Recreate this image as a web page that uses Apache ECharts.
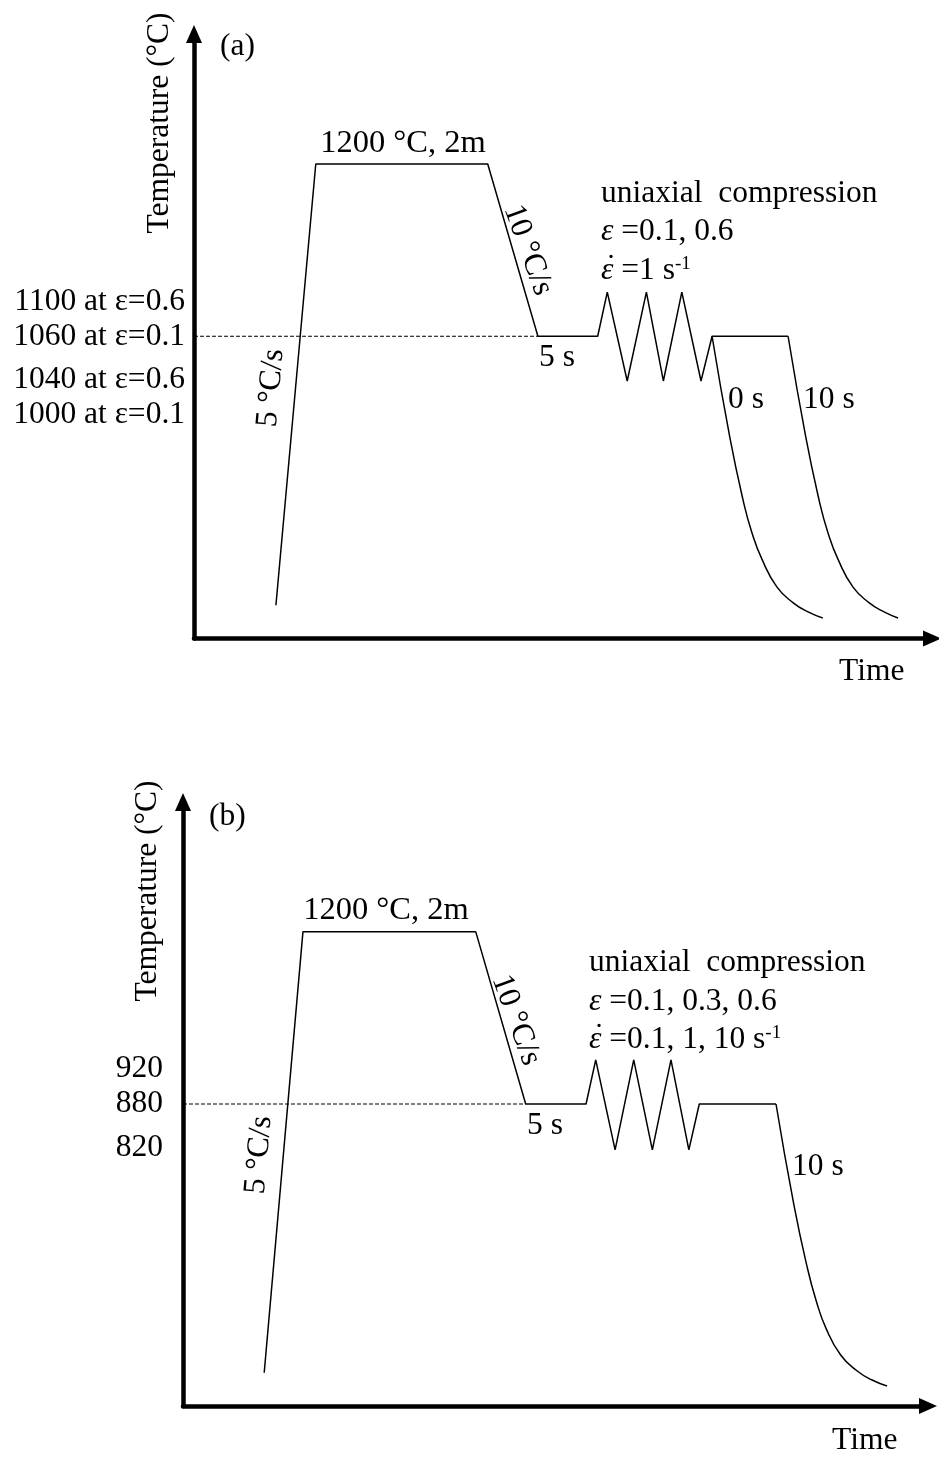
<!DOCTYPE html>
<html><head><meta charset="utf-8">
<script src="https://cdn.jsdelivr.net/npm/echarts@6/dist/echarts.min.js"></script>
<style>html,body{margin:0;padding:0;background:#fff}#c{width:939px;height:1457px}</style>
</head><body><div id="c"></div>
<script>
// Schematic units: time 0–100 (axis length), temperature 0–100 (axis height)
// ---- Panel (a) ----
const pathTimeA = [11.1, 16.5, 39.8, 46.6, 54.7, 56.0, 58.7, 61.3, 63.6, 66.1, 68.7, 70.2, 80.5];
const pathTempA = [5.5, 78.5, 78.5, 50.0, 50.0, 57.3, 42.6, 57.3, 42.6, 57.3, 42.6, 50.0, 50.0];
const cool0sTimeA = [70.2, 72.6, 74.4, 75.6, 77.0, 79.0, 81.2, 83.2, 85.2];
const cool0sTempA = [50.0, 33.3, 22.9, 17.5, 13.0, 8.5, 5.9, 4.4, 3.4];
const cool10sTimeA = [80.5, 82.9, 84.7, 85.9, 87.3, 89.3, 91.5, 93.5, 95.4];
const cool10sTempA = [50.0, 33.3, 22.9, 17.5, 13.0, 8.5, 5.9, 4.4, 3.4];
const refTimeA = [0, 46.6];
const refTempA = [50.0, 50.0];
const tickValuesA = [55.7, 50, 42.8, 37];
const tickLabelsA = ['1100 at ε=0.6', '1060 at ε=0.1', '1040 at ε=0.6', '1000 at ε=0.1'];

// ---- Panel (b) ----
const pathTimeB = [10.9, 16.1, 39.3, 46.0, 54.1, 55.4, 58.0, 60.5, 63.0, 65.5, 67.9, 69.3, 79.6];
const pathTempB = [5.5, 78.5, 78.5, 50.0, 50.0, 57.3, 42.4, 57.3, 42.4, 57.3, 42.4, 50.0, 50.0];
const cool10sTimeB = [79.6, 82.0, 83.8, 85.0, 86.3, 88.3, 90.5, 92.5, 94.5];
const cool10sTempB = [50.0, 33.3, 22.9, 17.4, 12.9, 8.4, 5.8, 4.3, 3.3];
const refTimeB = [0, 46.0];
const refTempB = [50.0, 50.0];
const tickValuesB = [55.8, 50, 42.7];
const tickLabelsB = ['920', '880', '820'];

const FONT = 'Liberation Serif, Times New Roman, serif';
const FS = 31.5;
const zip = (xs, ys) => xs.map((x, i) => [x, ys[i]]);

function xAx(gi) {
  return {
    type: 'value', gridIndex: gi, min: 0, max: 100,
    axisLine: { show: true, lineStyle: { color: '#000', width: 4.5 }, symbol: ['none', 'triangle'], symbolSize: [16, 18] },
    axisTick: { show: false }, axisLabel: { show: false }, splitLine: { show: false }
  };
}
function yAx(gi, vals, labels, margin) {
  return {
    type: 'value', gridIndex: gi, min: 0, max: 100,
    axisLine: { show: true, lineStyle: { color: '#000', width: 4.5 }, symbol: ['none', 'triangle'], symbolSize: [16, 18] },
    axisTick: { show: false }, splitLine: { show: false },
    axisLabel: {
      show: true, customValues: vals, margin: margin,
      formatter: v => labels[vals.indexOf(v)] || '',
      fontFamily: FONT, fontSize: FS, color: '#000'
    }
  };
}
function line(gi, xs, ys, extra) {
  return Object.assign({
    type: 'line', xAxisIndex: gi, yAxisIndex: gi, data: zip(xs, ys),
    symbol: 'none', silent: true, animation: false,
    lineStyle: { color: '#000', width: 1.5 }
  }, extra || {});
}
function txt(text, x, y, o) {
  o = o || {};
  return {
    type: 'text', x: x, y: y, rotation: o.rot || 0, silent: true, z: 100,
    style: {
      text: text, fill: '#000', fontFamily: FONT, fontSize: o.fs || FS,
      align: o.align || 'left', verticalAlign: 'middle',
      rich: {
        i: { fontStyle: 'italic', fontFamily: FONT, fontSize: FS },
        sup: { fontFamily: FONT, fontSize: 19, verticalAlign: 'top', lineHeight: 31 }
      }
    }
  };
}
const deg = d => d * Math.PI / 180;

const chart = echarts.init(document.getElementById('c'), null, { renderer: 'canvas' });
chart.setOption({
  backgroundColor: '#fff',
  animation: false,
  grid: [
    { left: 194, top: 34, width: 738, height: 604.5 },
    { left: 183, top: 802, width: 745, height: 604 }
  ],
  xAxis: [xAx(0), xAx(1)],
  yAxis: [yAx(0, tickValuesA, tickLabelsA, 9), yAx(1, tickValuesB, tickLabelsB, 20)],
  series: [
    line(0, pathTimeA, pathTempA),
    line(0, cool0sTimeA, cool0sTempA, { smooth: 0.5 }),
    line(0, cool10sTimeA, cool10sTempA, { smooth: 0.5 }),
    line(0, refTimeA, refTempA, { lineStyle: { color: '#000', width: 1, type: [4, 2] } }),
    line(1, pathTimeB, pathTempB),
    line(1, cool10sTimeB, cool10sTempB, { smooth: 0.5 }),
    line(1, refTimeB, refTempB, { lineStyle: { color: '#000', width: 1, type: [4, 2] } })
  ],
  graphic: [
    // panel (a)
    txt('(a)', 220, 47),
    txt('Temperature (°C)', 160, 123, { align: 'center', rot: deg(90) }),
    txt('1200 °C, 2m', 403, 143, { align: 'center', fs: 32.5 }),
    txt('10 °C/s', 528, 250, { align: 'center', rot: deg(-70) }),
    txt('5 s', 539, 358),
    txt('uniaxial  compression', 601, 194),
    txt('{i|ε} =0.1, 0.6', 601, 232),
    txt('{i|ε} =1 s{sup|-1}', 601, 271),
    txt('˙', 611, 268, { align: 'center' }),
    txt('0 s', 728, 400),
    txt('10 s', 803, 400),
    txt('5 °C/s', 271, 388, { align: 'center', rot: deg(85) }),
    txt('Time', 839, 672),
    // panel (b)
    txt('(b)', 209, 817),
    txt('Temperature (°C)', 148, 891, { align: 'center', rot: deg(90) }),
    txt('1200 °C, 2m', 386, 910, { align: 'center', fs: 32.5 }),
    txt('10 °C/s', 516, 1020, { align: 'center', rot: deg(-70) }),
    txt('5 s', 527, 1126),
    txt('uniaxial  compression', 589, 963),
    txt('{i|ε} =0.1, 0.3, 0.6', 589, 1002),
    txt('{i|ε} =0.1, 1, 10 s{sup|-1}', 589, 1040),
    txt('˙', 599, 1037, { align: 'center' }),
    txt('10 s', 792, 1167),
    txt('5 °C/s', 259, 1155, { align: 'center', rot: deg(85) }),
    txt('Time', 832, 1441)
  ]
});
</script>
</body></html>
